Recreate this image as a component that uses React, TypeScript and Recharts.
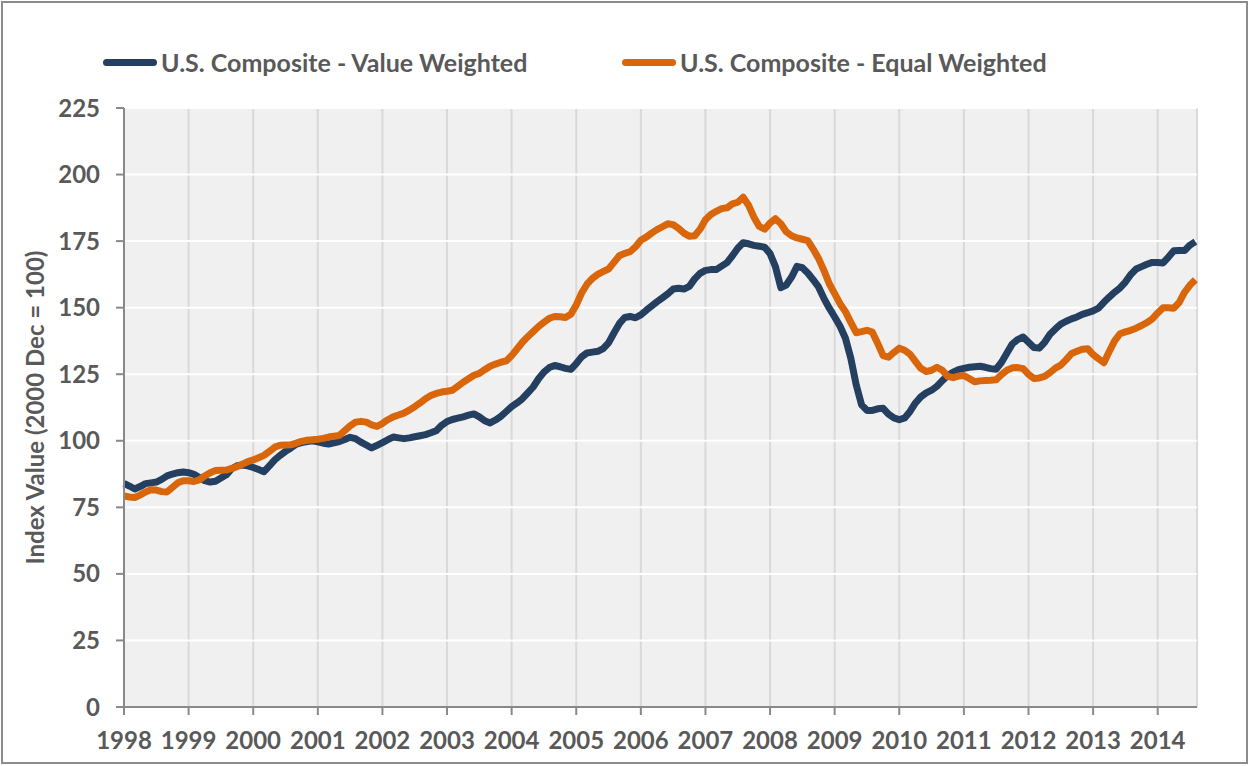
import { CartesianGrid, Line, LineChart, XAxis, YAxis } from 'recharts';

// monthly index values, Jan 1998 .. Aug 2014 (one row per year)
const valueWeighted = [
  84.0, 83.0, 81.9, 82.8, 83.9, 84.2, 84.5, 85.5, 86.8, 87.5, 88.0, 88.3,
  88.0, 87.4, 86.2, 85.0, 84.5, 84.8, 86.0, 87.2, 89.5, 90.6, 90.9, 90.6,
  90.0, 89.2, 88.4, 90.6, 92.8, 94.5, 96.0, 97.3, 98.7, 99.3, 99.7, 100.0,
  99.6, 99.1, 98.8, 99.2, 99.7, 100.5, 101.3, 100.8, 99.5, 98.4, 97.3, 98.3,
  99.3, 100.4, 101.4, 101.1, 100.8, 101.1, 101.5, 101.9, 102.3, 103.0, 103.8, 105.8,
  107.2, 108.0, 108.5, 109.0, 109.6, 110.1, 109.0, 107.5, 106.7, 107.8, 109.2, 111.0,
  112.8, 114.2, 115.8, 118.0, 120.2, 123.3, 125.8, 127.5, 128.3, 127.8, 127.2, 126.8,
  129.0, 131.5, 133.0, 133.3, 133.6, 134.6, 136.8, 140.5, 144.0, 146.3, 146.7, 146.2,
  147.3, 149.0, 150.6, 152.2, 153.7, 155.2, 157.0, 157.3, 157.0, 158.0, 160.8, 162.9,
  164.0, 164.3, 164.3, 165.6, 166.9, 169.5, 172.3, 174.4, 174.0, 173.4, 173.1, 172.7,
  170.3, 165.4, 157.5, 158.5, 161.5, 165.5, 165.0, 163.0, 160.5, 157.8, 153.5, 149.8,
  146.5, 143.0, 138.5, 131.0, 121.0, 113.5, 111.4, 111.4, 112.0, 112.2, 110.0, 108.6,
  107.9, 108.6, 111.0, 114.2, 116.5, 118.0, 119.0, 120.5, 122.6, 124.5, 125.8, 126.7,
  127.2, 127.6, 127.8, 128.0, 127.6, 127.1, 126.9, 129.5, 133.0, 136.4, 138.0, 139.0,
  137.0, 135.0, 134.8, 137.0, 140.0, 142.0, 143.8, 144.9, 145.8, 146.5, 147.5, 148.1,
  148.8, 149.8, 152.0, 154.0, 155.8, 157.4, 159.6, 162.5, 164.5, 165.4, 166.3, 167.0,
  167.0, 166.8, 169.0, 171.4, 171.5, 171.5, 173.5, 174.8,
];

const equalWeighted = [
  79.3, 78.9, 78.7, 79.6, 80.8, 81.6, 81.5, 80.9, 80.8, 82.5, 84.2, 85.0,
  85.0, 84.7, 85.3, 86.8, 88.0, 88.8, 88.9, 89.0, 89.6, 90.3, 91.2, 92.2,
  92.8, 93.6, 94.5, 96.0, 97.6, 98.3, 98.4, 98.5, 99.1, 99.8, 100.2, 100.4,
  100.6, 100.9, 101.4, 101.7, 102.0, 103.8, 105.6, 107.0, 107.3, 107.0, 106.0, 105.4,
  106.5, 107.9, 109.0, 109.7, 110.4, 111.5, 112.8, 114.2, 115.8, 117.0, 117.8, 118.3,
  118.6, 119.0, 120.5, 122.0, 123.3, 124.6, 125.3, 126.7, 128.0, 128.8, 129.5, 130.0,
  132.0, 134.5, 137.0, 139.1, 141.0, 142.9, 144.5, 146.0, 146.7, 146.6, 146.3, 147.5,
  151.0, 155.5, 158.8, 161.0, 162.5, 163.6, 164.5, 167.0, 169.5, 170.4, 171.0, 172.8,
  175.3, 176.5, 178.0, 179.3, 180.4, 181.5, 181.2, 179.8, 178.0, 176.8, 177.0, 179.5,
  183.0, 185.0, 186.2, 187.2, 187.5, 189.0, 189.6, 191.5, 188.5, 184.0, 180.5, 179.5,
  181.8, 183.4, 181.5, 178.5, 177.0, 176.2, 175.7, 175.2, 172.0, 168.5, 164.0, 159.0,
  155.3, 151.5, 148.5, 144.5, 140.6, 141.0, 141.5, 140.8, 136.5, 132.0, 131.4, 133.2,
  134.8, 134.0, 132.5, 129.8, 127.2, 126.0, 126.5, 127.6, 126.5, 124.2, 123.7, 124.3,
  124.5, 123.4, 122.2, 122.5, 122.6, 122.7, 122.9, 124.9, 126.5, 127.4, 127.5, 127.1,
  125.0, 123.4, 123.6, 124.2, 125.6, 127.3, 128.4, 130.5, 132.8, 133.6, 134.4, 134.6,
  132.4, 130.8, 129.3, 133.5, 137.5, 140.2, 140.9, 141.5, 142.3, 143.3, 144.4, 145.8,
  148.0, 150.0, 150.0, 149.8, 152.0, 155.8, 158.5, 160.5,
];

const years = [1998, 1999, 2000, 2001, 2002, 2003, 2004, 2005, 2006, 2007, 2008, 2009, 2010, 2011, 2012, 2013, 2014];
const yTicks = [0, 25, 50, 75, 100, 125, 150, 175, 200, 225];

const BLUE = '#243f60';
const ORANGE = '#d9660a';
const TEXT = '#595959';
const FONT = 'Lato, "Open Sans", sans-serif';

const data = valueWeighted.map((v, i) => ({ m: i, vw: v, ew: equalWeighted[i] }));
const monthTicks = years.map((_, i) => i * 12);

const tickStyle = { fill: TEXT, fontFamily: FONT, fontWeight: 700, fontSize: 24 };

function LegendBox() {
  const items = [
    { label: 'U.S. Composite - Value Weighted', color: BLUE, left: 103 },
    { label: 'U.S. Composite - Equal Weighted', color: ORANGE, left: 622 },
  ];
  return (
    <>
      {items.map((it) => (
        <div
          key={it.label}
          style={{
            position: 'absolute', top: 47, left: it.left, height: 30, display: 'flex', alignItems: 'center',
            fontFamily: FONT, fontWeight: 700, fontSize: 25, color: TEXT, whiteSpace: 'nowrap',
          }}
        >
          <span style={{ display: 'inline-block', width: 54, height: 7, borderRadius: 4, background: it.color, marginRight: 4 }} />
          <span>{it.label}</span>
        </div>
      ))}
    </>
  );
}

export default function App() {
  return (
    <div style={{ position: 'absolute', left: 0, top: 0, width: 1250, height: 766, background: '#fff' }}>
      <div style={{ position: 'absolute', left: 1, top: 1, width: 1247, height: 763, border: '2px solid #8c8c8c', boxSizing: 'border-box' }} />
      <LegendBox />
      <LineChart width={1250} height={766} data={data} margin={{ top: 108, right: 53, bottom: 19, left: 4 }} style={{ position: 'absolute', left: 0, top: 0 }}>
        <CartesianGrid horizontal={false} stroke="#d9d9d9" strokeWidth={2} fill="#f0f0f0" />
        <CartesianGrid vertical={false} stroke="#ffffff" strokeWidth={2} />
        <XAxis
          type="number"
          dataKey="m"
          domain={[0, 199.3]}
          ticks={monthTicks}
          tickFormatter={(m: number) => String(1998 + m / 12)}
          stroke="#898989"
          strokeWidth={2}
          tickSize={8}
          tickMargin={17}
          height={40}
          tick={tickStyle}
        />
        <YAxis
          domain={[0, 225]}
          ticks={yTicks}
          stroke="#898989"
          strokeWidth={2}
          tickSize={8}
          tickMargin={16}
          width={120}
          tick={tickStyle}
          label={{
            value: 'Index Value (2000 Dec = 100)',
            angle: -90,
            position: 'insideLeft',
            offset: 31,
            style: { fill: TEXT, fontFamily: FONT, fontWeight: 700, fontSize: 24, textAnchor: 'middle' },
          }}
        />
        <Line type="linear" dataKey="vw" stroke={BLUE} strokeWidth={7} dot={false} isAnimationActive={false} strokeLinejoin="round" />
        <Line type="linear" dataKey="ew" stroke={ORANGE} strokeWidth={7} dot={false} isAnimationActive={false} strokeLinejoin="round" />
      </LineChart>
    </div>
  );
}
